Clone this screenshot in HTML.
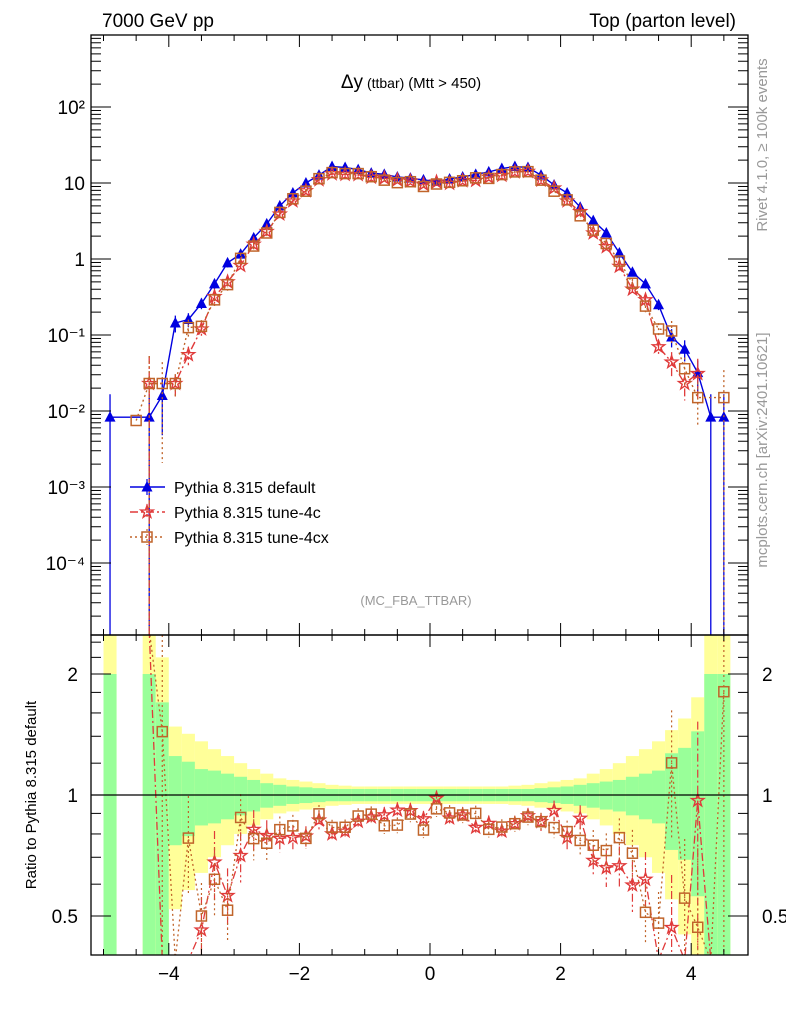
<!DOCTYPE html>
<html><head><meta charset="utf-8"><style>
html,body{margin:0;background:#fff;width:786px;height:1024px;overflow:hidden;}
svg{display:block;font-family:"Liberation Sans",sans-serif;}
</style></head><body>
<svg id="c" width="786" height="1024" viewBox="0 0 786 1024">
<defs>
<clipPath id="cm"><rect x="91" y="35" width="657" height="600"/></clipPath>
<clipPath id="cr"><rect x="91" y="635" width="657" height="320"/></clipPath>
</defs>
<g id="bands" clip-path="url(#cr)"></g>
<g id="main" clip-path="url(#cm)"></g>
<g id="ratio" clip-path="url(#cr)"></g>
<line x1="91" y1="795" x2="748" y2="795" stroke="#000" stroke-width="1.3"/>
<g id="axes"></g>
<rect x="91" y="35" width="657" height="600" fill="none" stroke="#000" stroke-width="1.3"/>
<rect x="91" y="635" width="657" height="320" fill="none" stroke="#000" stroke-width="1.3"/>
<text x="102" y="27" font-size="19">7000 GeV pp</text>
<text x="736" y="27" font-size="19" text-anchor="end">Top (parton level)</text>
<text x="411" y="88" text-anchor="middle"><tspan font-size="19">Δy</tspan><tspan font-size="14"> (ttbar) </tspan><tspan font-size="15">(Mtt &gt; 450)</tspan></text>
<text x="416" y="605" font-size="13" fill="#999" text-anchor="middle">(MC_FBA_TTBAR)</text>
<text transform="translate(767,145) rotate(-90)" font-size="15" fill="#999" text-anchor="middle">Rivet 4.1.0, ≥ 100k events</text>
<text transform="translate(767,450) rotate(-90)" font-size="15" fill="#999" text-anchor="middle">mcplots.cern.ch [arXiv:2401.10621]</text>
<text transform="translate(36,795) rotate(-90)" font-size="15" text-anchor="middle">Ratio to Pythia 8.315 default</text>
<g id="legend"></g>
</svg>
<script>
const centers = [-4.9,-4.7,-4.5,-4.3,-4.1,-3.9,-3.7,-3.5,-3.3,-3.1,-2.9,-2.7,-2.5,-2.3,-2.1,-1.9,-1.7,-1.5,-1.3,-1.1,-0.9,-0.7,-0.5,-0.3,-0.1,0.1,0.3,0.5,0.7,0.9,1.1,1.3,1.5,1.7,1.9,2.1,2.3,2.5,2.7,2.9,3.1,3.3,3.5,3.7,3.9,4.1,4.3,4.5];
const valDefault = [0.0083,0,0,0.0083,0.016,0.144,0.16,0.26,0.47,0.89,1.16,1.9,2.9,5.0,7.4,10,12.7,16.5,16,15,13.5,13,12,11.6,11,10.5,11.3,12,13,14,15.5,16.5,16,12.7,9.4,7.4,4.8,3.2,2.2,1.2,0.67,0.47,0.25,0.094,0.065,0.032,0.0083,0.0083];
const valTune4c = [0,0,0,0.023,0,0.023,0.055,0.12,0.32,0.50,0.82,1.56,2.3,3.9,5.8,7.9,11,13.2,13,12.9,11.9,11.6,11,10.6,9.6,10.3,9.9,10.7,10.8,11.9,12.6,14,14.2,10.9,8.6,5.8,4.2,2.2,1.45,0.8,0.40,0.29,0.07,0.044,0.023,0.031,0,0];
const valTune4cx = [0,0,0.0075,0.023,0.023,0.023,0.125,0.13,0.29,0.46,1.02,1.48,2.2,4.1,6.2,7.8,11.4,13.7,13.3,13.3,12.1,10.9,10.1,10.4,9.0,9.7,10.2,10.7,11.7,11.5,12.9,14,14.1,10.9,7.8,6.0,3.7,2.4,1.6,0.94,0.48,0.24,0.12,0.113,0.036,0.015,0,0.015];
const errGreen = [1,0,0,1,0.7,0.25,0.21,0.16,0.15,0.13,0.11,0.09,0.07,0.06,0.05,0.045,0.04,0.035,0.035,0.035,0.035,0.035,0.035,0.035,0.035,0.035,0.035,0.035,0.035,0.035,0.035,0.035,0.035,0.04,0.045,0.05,0.06,0.07,0.08,0.09,0.11,0.13,0.15,0.27,0.31,0.44,1,1];
const errYellow = [1.5,0,0,1.5,1.2,0.48,0.42,0.36,0.3,0.25,0.2,0.16,0.13,0.1,0.09,0.08,0.07,0.06,0.055,0.05,0.05,0.05,0.05,0.05,0.05,0.05,0.05,0.05,0.05,0.05,0.05,0.055,0.06,0.07,0.08,0.09,0.1,0.13,0.16,0.2,0.25,0.3,0.36,0.45,0.55,0.75,1.5,1.5];
const xTicks = [-4,-2,0,2,4];
const xTickLabels = ["−4","−2","0","2","4"];
const yDecades = [-4,-3,-2,-1,0,1,2];
const yDecadeLabels = ["10⁻⁴","10⁻³","10⁻²","10⁻¹","1","10","10²"];
const rTicks = [0.5,1,2];
const rTickLabels = ["0.5","1","2"];

const NS="http://www.w3.org/2000/svg";
const X = v => 430 + 65.3*v;
const Y = v => 259 - 76*Math.log10(v);
const R = r => 795 - 121*Math.log2(r);
const BW = 0.2;
const clampR = y => Math.max(630, Math.min(960, y));
const clampM = y => Math.max(30, Math.min(640, y));
function mk(tag, attrs, parent){const e=document.createElementNS(NS,tag);for(const k in attrs)e.setAttribute(k,attrs[k]);parent.appendChild(e);return e;}
const gMain=document.getElementById('main'), gRatio=document.getElementById('ratio'), gBands=document.getElementById('bands'), gAxes=document.getElementById('axes'), gLeg=document.getElementById('legend');

centers.forEach((c,i)=>{
  if(errGreen[i]<=0) return;
  const x0=X(c-BW/2), w=X(c+BW/2)-x0;
  const ey=errYellow[i], eg=errGreen[i];
  const yT=clampR(R(1+ey)), yB=(1-ey)>0?clampR(R(1-ey)):955;
  const r1=mk('rect',{x:x0,y:yT,width:w,height:yB-yT,fill:'#ffff99'},gBands);
  
  
  const gT=clampR(R(1+eg)), gB=(1-eg)>0?clampR(R(1-eg)):955;
  const r2=mk('rect',{x:x0,y:gT,width:w,height:gB-gT,fill:'#99ff99'},gBands);
  
  
});

function marker(type,x,y,color,parent){
  let e;
  if(type==='tri'){e=mk('polygon',{points:`${x},${y-6} ${x-5.5},${y+4.5} ${x+5.5},${y+4.5}`,fill:color},parent);}
  else if(type==='sq'){e=mk('rect',{x:x-5,y:y-5,width:10,height:10,fill:'none',stroke:color,'stroke-width':1.5},parent);}
  else {let p=[];for(let k=0;k<10;k++){const a=-Math.PI/2+k*Math.PI/5,r=k%2?2.6:6.5;p.push((x+r*Math.cos(a)).toFixed(1)+','+(y+r*Math.sin(a)).toFixed(1));}
    e=mk('polygon',{points:p.join(' '),fill:'none',stroke:color,'stroke-width':1.4},parent);}
  return e;
}

const series=[
 {vals:valDefault,color:'#0000e0',dash:'',mk:'tri',name:'default'},
 {vals:valTune4c,color:'#e03a3a',dash:'8,3,2,3',mk:'star',name:'tune-4c'},
 {vals:valTune4cx,color:'#c0642a',dash:'2,3',mk:'sq',name:'tune-4cx'}
];

series.forEach((s,si)=>{
  const pts=[];
  centers.forEach((c,i)=>{if(s.vals[i]>0)pts.push(X(c).toFixed(1)+','+Y(s.vals[i]).toFixed(1));});
  const pl=mk('polyline',{points:pts.join(' '),fill:'none',stroke:s.color,'stroke-width':1.4,'stroke-dasharray':s.dash},gMain);
  
  
  centers.forEach((c,i)=>{
    const v=s.vals[i]; if(!(v>0))return;
    const e=errGreen[i]*(si===0?1:1.3);
    const lo=v*(1-e)>0?clampM(Y(v*(1-e))):640, hi=clampM(Y(v*(1+e)));
    const eb=mk('line',{x1:X(c),y1:hi,x2:X(c),y2:lo,stroke:s.color,'stroke-width':1.3,'stroke-dasharray':s.dash},gMain);
    
    
    const m=marker(s.mk,X(c),Y(v),s.color,gMain);
    
    
  });
  if(si===0) return;
  const rp=[];
  let started=false;
  centers.forEach((c,i)=>{
    const d=valDefault[i], v=s.vals[i];
    if(d>0 && v>0){rp.push([X(c),R(v/d),i]);started=true;}
    else if(d>0 && v===0 && started) rp.push([X(c),960,-1]);
  });
  const rl=mk('polyline',{points:rp.map(p=>p[0].toFixed(1)+','+clampR(p[1]).toFixed(1)).join(' '),fill:'none',stroke:s.color,'stroke-width':1.3,'stroke-dasharray':s.dash},gRatio);
  
  
  rp.forEach(p=>{
    if(p[2]<0 || p[1]>955 || p[1]<635)return;
    const i=p[2], r=s.vals[i]/valDefault[i], e=errGreen[i]*1.3;
    const eb=mk('line',{x1:p[0],y1:clampR(R(r*(1+e))),x2:p[0],y2:r*(1-e)>0?clampR(R(r*(1-e))):960,stroke:s.color,'stroke-width':1.2,'stroke-dasharray':s.dash},gRatio);
    
    
    const m=marker(s.mk,p[0],p[1],s.color,gRatio);
    
    
  });
});

function tick(x1,y1,x2,y2,name){const t=mk('line',{x1,y1,x2,y2,stroke:'#000','stroke-width':1},gAxes);}
function label(x,y,txt,anchor,size,name){const t=mk('text',{x,y,'text-anchor':anchor,'font-size':size},gAxes);t.textContent=txt;return t;}
for(let v=-5;v<=4.8;v+=0.5){
  const major=Math.abs(v%2)<1e-6, L=major?12:6, x=X(v);
  if(x<91||x>748)continue;
  tick(x,35,x,35+L,'x-tick'); tick(x,635,x,635-L,'x-tick');
  tick(x,635,x,635+L,'x-tick'); tick(x,955,x,955-L,'x-tick');
}
xTicks.forEach((v,i)=>label(X(v),980,xTickLabels[i],'middle',19,'x-tick-label'));
yDecades.forEach((d,i)=>{
  const y=Y(Math.pow(10,d));
  tick(91,y,111,y,'y-tick'); tick(748,y,728,y,'y-tick');
  label(85,y+7,yDecadeLabels[i],'end',19,'y-tick-label');
  for(let k=2;k<=9;k++){const ym=Y(k*Math.pow(10,d));if(ym<35||ym>635)continue;tick(91,ym,101,ym,'y-minor-tick');tick(748,ym,738,ym,'y-minor-tick');}
});
for(let k=2;k<=9;k++){const ym=Y(k*1e-5);if(ym>35&&ym<635){tick(91,ym,101,ym,'y-minor-tick');tick(748,ym,738,ym,'y-minor-tick');}}
rTicks.forEach((r,i)=>{
  const y=R(r);
  tick(91,y,111,y,'ratio-tick'); tick(748,y,728,y,'ratio-tick');
  label(78,y+7,rTickLabels[i],'end',19,'ratio-tick-label-left');
  label(762,y+7,rTickLabels[i],'start',19,'ratio-tick-label-right');
});
[0.6,0.7,0.8,0.9,1.2,1.4,1.6,1.8,2.2,2.4].forEach(r=>{const y=R(r);if(y<635||y>955)return;tick(91,y,101,y,'ratio-minor-tick');tick(748,y,738,y,'ratio-minor-tick');});

const legY=[487,512,537];
series.forEach((s,i)=>{
  const y=legY[i];
  const l=mk('line',{x1:130,y1:y,x2:165,y2:y,stroke:s.color,'stroke-width':1.4,'stroke-dasharray':s.dash},gLeg);
  
  
  const vl=mk('line',{x1:147,y1:y-8,x2:147,y2:y+8,stroke:s.color,'stroke-width':1.2,'stroke-dasharray':s.dash},gLeg);
  
  
  const m=marker(s.mk,147,y,s.color,gLeg);
  
  
  const t=mk('text',{x:174,y:y+6,'font-size':16},gLeg);
  t.textContent='Pythia 8.315 '+s.name;
  
  
});
</script>
</body></html>
